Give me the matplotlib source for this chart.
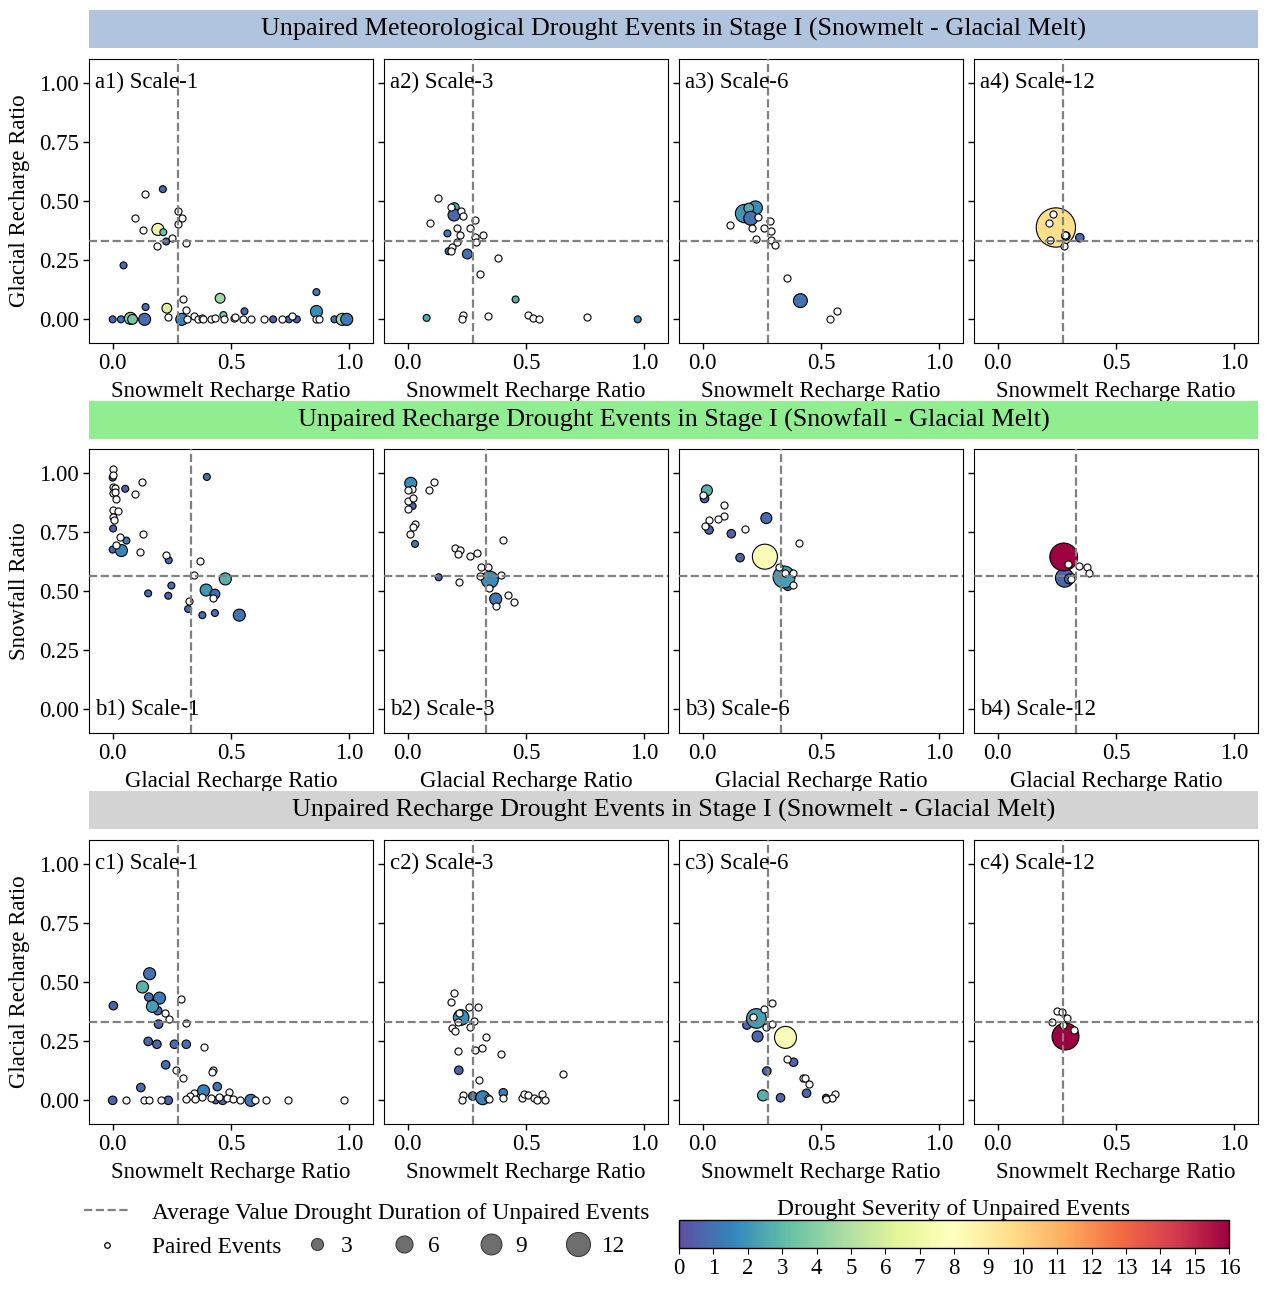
import numpy as np
import matplotlib
matplotlib.use("Agg")
import matplotlib.pyplot as plt
from matplotlib.lines import Line2D
from matplotlib.colors import Normalize
from matplotlib.cm import ScalarMappable

plt.rcParams['font.family'] = ['Liberation Serif', 'DejaVu Serif']

# ---------------- data ----------------
# row a: meteorological drought (snowmelt vs glacial recharge ratio)
a1_px = [0.138, 0.093, 0.128, 0.274, 0.291, 0.278, 0.252, 0.188, 0.311, 0.297, 0.308, 0.232, 0.312, 0.342, 0.359,
         0.378, 0.381, 0.415, 0.432, 0.471, 0.511, 0.519, 0.550, 0.586, 0.640, 0.716, 0.757, 0.861, 0.873]
a1_py = [0.531, 0.429, 0.378, 0.457, 0.428, 0.402, 0.344, 0.309, 0.324, 0.088, 0.040, 0.011, 0.002, 0.014, 0.000,
         0.007, 0.000, 0.000, 0.007, 0.000, 0.004, 0.008, 0.000, 0.003, 0.000, 0.000, 0.012, 0.000, 0.000]
a1_ux = [0.212, 0.191, 0.214, 0.226, 0.046, 0.454, 0.861, 0.139, 0.229, 0.557, 0.861, 0.468, 0.000, 0.035, 0.075,
         0.084, 0.135, 0.292, 0.678, 0.745, 0.778, 0.937, 0.970, 0.989]
a1_uy = [0.550, 0.380, 0.368, 0.329, 0.228, 0.089, 0.115, 0.052, 0.047, 0.034, 0.033, 0.018, 0.0, 0.0, 0.004,
         0.0, 0.0, 0.0, 0.0, 0.0, 0.0, 0.0, 0.0, 0.0]
a1_dur = [1, 3, 1, 1, 1, 2, 1, 1, 2, 1, 3, 1, 1, 1, 3, 2, 3, 3, 1, 1, 1, 1, 3, 3]
a1_sev = [0.8, 7.0, 3.2, 0.5, 0.8, 4.5, 1.3, 0.8, 6.0, 0.8, 1.8, 3.5, 0.7, 1.3, 4.0, 3.5, 0.8, 1.6, 0.5, 0.8,
          0.5, 1.0, 4.5, 1.2]

a2_px = [0.127, 0.182, 0.227, 0.232, 0.096, 0.283, 0.210, 0.263, 0.223, 0.283, 0.320, 0.208, 0.287, 0.189, 0.182,
         0.380, 0.306, 0.235, 0.228, 0.338, 0.507, 0.528, 0.556, 0.758]
a2_py = [0.514, 0.474, 0.456, 0.436, 0.409, 0.421, 0.388, 0.384, 0.357, 0.350, 0.358, 0.326, 0.326, 0.307, 0.290,
         0.259, 0.190, 0.018, 0.000, 0.013, 0.020, 0.004, 0.000, 0.011]
a2_ux = [0.197, 0.196, 0.168, 0.173, 0.252, 0.456, 0.080, 0.972]
a2_uy = [0.472, 0.441, 0.363, 0.288, 0.276, 0.084, 0.006, 0.000]
a2_dur = [2, 3, 1, 1, 2, 1, 1, 1]
a2_sev = [2.5, 0.7, 1.3, 0.9, 1.0, 2.7, 2.5, 1.6]

a3_px = [0.115, 0.208, 0.261, 0.285, 0.287, 0.224, 0.289, 0.306, 0.358, 0.539, 0.569, 0.234]
a3_py = [0.397, 0.388, 0.386, 0.414, 0.375, 0.338, 0.337, 0.314, 0.174, 0.003, 0.034, 0.434]
a3_ux = [0.177, 0.223, 0.195, 0.203, 0.413]
a3_uy = [0.447, 0.471, 0.470, 0.427, 0.079]
a3_dur = [7, 4, 2, 4, 4]
a3_sev = [2.0, 1.8, 2.5, 1.0, 1.0]

a4_px = [0.234, 0.216, 0.223, 0.283, 0.279]
a4_py = [0.444, 0.405, 0.334, 0.356, 0.311]
a4_ux = [0.246, 0.288, 0.347]
a4_uy = [0.388, 0.352, 0.345]
a4_dur = [32, 1.5, 1.5]
a4_sev = [9.6, 0.8, 0.8]

# row b: recharge drought (glacial recharge ratio vs snowfall ratio)
b1_px = [0.0, 0.0, 0.0, 0.011, 0.0, 0.008, 0.016, 0.124, 0.094, 0.0, 0.021, 0.0, 0.005, 0.127, 0.029, 0.016,
         0.116, 0.226, 0.371, 0.342, 0.324, 0.426]
b1_py = [1.016, 0.989, 0.939, 0.936, 0.915, 0.918, 0.887, 0.959, 0.910, 0.842, 0.838, 0.814, 0.798, 0.742, 0.730,
         0.694, 0.664, 0.651, 0.626, 0.566, 0.459, 0.470]
b1_ux = [0.0, 0.053, 0.398, 0.002, 0.058, 0.0, 0.037, 0.237, 0.476, 0.248, 0.150, 0.235, 0.395, 0.432, 0.319,
         0.379, 0.432, 0.535]
b1_uy = [0.979, 0.932, 0.982, 0.764, 0.713, 0.675, 0.671, 0.630, 0.551, 0.523, 0.490, 0.480, 0.504, 0.487, 0.424,
         0.398, 0.407, 0.398]
b1_dur = [1, 1, 1, 1, 1, 1, 3, 1, 3, 1, 1, 1, 3, 2, 1, 1, 1, 3]
b1_sev = [0.5, 0.6, 0.9, 0.5, 1.2, 0.7, 1.5, 0.8, 2.8, 0.9, 0.8, 0.6, 2.0, 0.9, 0.9, 0.9, 0.9, 1.0]

b2_px = [0.111, 0.090, 0.018, 0.002, 0.002, 0.021, 0.002, 0.029, 0.024, 0.010, 0.401, 0.200, 0.220, 0.212, 0.263,
         0.292, 0.309, 0.338, 0.307, 0.393, 0.216, 0.344, 0.422, 0.451, 0.373]
b2_py = [0.959, 0.925, 0.929, 0.927, 0.880, 0.894, 0.847, 0.781, 0.771, 0.742, 0.715, 0.682, 0.672, 0.657, 0.647,
         0.660, 0.602, 0.602, 0.562, 0.569, 0.537, 0.513, 0.484, 0.453, 0.438]
b2_ux = [0.013, 0.021, 0.031, 0.131, 0.347, 0.372]
b2_uy = [0.955, 0.859, 0.699, 0.558, 0.548, 0.466]
b2_dur = [3, 1, 1, 1, 6, 3]
b2_sev = [1.8, 0.6, 1.1, 0.6, 1.8, 1.1]

b3_px = [0.002, 0.090, 0.090, 0.066, 0.026, 0.011, 0.177, 0.408, 0.321, 0.348, 0.382, 0.382]
b3_py = [0.907, 0.862, 0.816, 0.806, 0.799, 0.775, 0.760, 0.703, 0.602, 0.578, 0.576, 0.527]
b3_ux = [0.018, 0.008, 0.269, 0.027, 0.121, 0.158, 0.263, 0.360, 0.344]
b3_uy = [0.925, 0.891, 0.808, 0.758, 0.742, 0.641, 0.645, 0.520, 0.559]
b3_dur = [2.5, 1.5, 2.5, 1.5, 1.5, 1.5, 13, 1.5, 10]
b3_sev = [2.8, 0.6, 0.8, 0.6, 0.6, 0.6, 7.5, 0.7, 2.2]

b4_px = [0.297, 0.344, 0.378, 0.384, 0.315, 0.310]
b4_py = [0.612, 0.607, 0.600, 0.576, 0.559, 0.550]
b4_ux = [0.283, 0.303, 0.279]
b4_uy = [0.555, 0.551, 0.644]
b4_dur = [7, 2, 16]
b4_sev = [0.7, 1.0, 16]

# row c: recharge drought (snowmelt vs glacial recharge ratio)
c1_px = [0.290, 0.223, 0.239, 0.310, 0.385, 0.426, 0.419, 0.268, 0.298, 0.490, 0.344, 0.327, 0.379, 0.416, 0.448,
         0.308, 0.347, 0.484, 0.508, 0.540, 0.602, 0.647, 0.739, 0.977, 0.056, 0.134, 0.153, 0.205]
c1_py = [0.428, 0.371, 0.343, 0.325, 0.226, 0.129, 0.119, 0.127, 0.095, 0.034, 0.030, 0.018, 0.016, 0.011, 0.016,
         0.007, 0.006, 0.011, 0.006, 0.003, 0.0, 0.0, 0.0, 0.0, 0.0, 0.0, 0.0, 0.0]
c1_ux = [0.156, 0.126, 0.153, 0.198, 0.190, 0.168, 0.003, 0.194, 0.150, 0.187, 0.261, 0.311, 0.224, 0.119, 0.384,
         0.442, 0.0, 0.235, 0.435, 0.465, 0.584]
c1_uy = [0.535, 0.479, 0.436, 0.432, 0.379, 0.397, 0.400, 0.322, 0.249, 0.237, 0.237, 0.237, 0.150, 0.054, 0.040,
         0.058, 0.0, 0.0, 0.0, 0.0, 0.0]
c1_dur = [3, 3, 1.5, 3, 1.5, 3, 1.5, 1.5, 1.5, 1.5, 1.5, 1.5, 1.5, 1.5, 3, 1.5, 1.5, 1.5, 1, 1.5, 3]
c1_sev = [1.0, 2.8, 0.9, 1.2, 0.9, 2.2, 0.6, 0.6, 0.7, 0.7, 0.9, 0.9, 0.9, 0.9, 1.4, 1.1, 0.6, 0.6, 0.6, 0.7, 1.1]

c2_px = [0.195, 0.184, 0.296, 0.258, 0.218, 0.279, 0.212, 0.187, 0.200, 0.263, 0.330, 0.213, 0.284, 0.313, 0.396,
         0.300, 0.656, 0.233, 0.228, 0.341, 0.344, 0.404, 0.485, 0.493, 0.509, 0.535, 0.548, 0.566, 0.580]
c2_py = [0.452, 0.417, 0.395, 0.393, 0.367, 0.335, 0.333, 0.305, 0.294, 0.311, 0.266, 0.209, 0.212, 0.220, 0.195,
         0.086, 0.112, 0.021, 0.0, 0.011, 0.004, 0.011, 0.011, 0.028, 0.021, 0.011, 0.003, 0.028, 0.003]
c2_ux = [0.226, 0.216, 0.275, 0.317, 0.404]
c2_uy = [0.350, 0.127, 0.018, 0.011, 0.032]
c2_dur = [5, 1.5, 1.5, 4, 1.5]
c2_sev = [1.8, 0.6, 0.7, 1.4, 1.3]

c3_px = [0.292, 0.261, 0.211, 0.295, 0.266, 0.358, 0.424, 0.434, 0.450, 0.558, 0.547, 0.521]
c3_py = [0.410, 0.386, 0.353, 0.322, 0.311, 0.175, 0.093, 0.093, 0.068, 0.027, 0.011, 0.006]
c3_ux = [0.187, 0.227, 0.232, 0.350, 0.384, 0.271, 0.255, 0.329, 0.439, 0.521]
c3_uy = [0.318, 0.346, 0.270, 0.266, 0.161, 0.124, 0.021, 0.011, 0.030, 0.011]
c3_dur = [1.5, 8, 2.5, 10, 1.5, 1.5, 2.5, 1.5, 1.5, 1]
c3_sev = [0.7, 2.2, 0.7, 7.5, 0.6, 0.6, 2.8, 0.7, 0.6, 0.6]

c4_px = [0.250, 0.271, 0.291, 0.231, 0.275, 0.323]
c4_py = [0.377, 0.373, 0.347, 0.332, 0.318, 0.297]
c4_ux = [0.283]
c4_uy = [0.271]
c4_dur = [15]
c4_sev = [16]

# average-value reference lines per row (x, y)
row_vline = [0.277, 0.331, 0.277]
row_hline = [0.331, 0.565, 0.333]

row_titles = ["Unpaired Meteorological Drought Events in Stage I (Snowmelt - Glacial Melt)",
              "Unpaired Recharge Drought Events in Stage I (Snowfall - Glacial Melt)",
              "Unpaired Recharge Drought Events in Stage I (Snowmelt - Glacial Melt)"]
row_colors = ["#b0c4de", "#90ee90", "#d3d3d3"]
row_xlabels = ["Snowmelt Recharge Ratio", "Glacial Recharge Ratio", "Snowmelt Recharge Ratio"]
row_ylabels = ["Glacial Recharge Ratio", "Snowfall Ratio", "Glacial Recharge Ratio"]
scales = [1, 3, 6, 12]
legend_durations = [3, 6, 9, 12]

panels = {
    "a1": (a1_px, a1_py, a1_ux, a1_uy, a1_dur, a1_sev),
    "a2": (a2_px, a2_py, a2_ux, a2_uy, a2_dur, a2_sev),
    "a3": (a3_px, a3_py, a3_ux, a3_uy, a3_dur, a3_sev),
    "a4": (a4_px, a4_py, a4_ux, a4_uy, a4_dur, a4_sev),
    "b1": (b1_px, b1_py, b1_ux, b1_uy, b1_dur, b1_sev),
    "b2": (b2_px, b2_py, b2_ux, b2_uy, b2_dur, b2_sev),
    "b3": (b3_px, b3_py, b3_ux, b3_uy, b3_dur, b3_sev),
    "b4": (b4_px, b4_py, b4_ux, b4_uy, b4_dur, b4_sev),
    "c1": (c1_px, c1_py, c1_ux, c1_uy, c1_dur, c1_sev),
    "c2": (c2_px, c2_py, c2_ux, c2_uy, c2_dur, c2_sev),
    "c3": (c3_px, c3_py, c3_ux, c3_uy, c3_dur, c3_sev),
    "c4": (c4_px, c4_py, c4_ux, c4_uy, c4_dur, c4_sev),
}

# ---------------- layout (pixels) ----------------
W, H = 1269, 1289
size_k = 25          # marker area per month of duration
paired_s = 26
cmap = plt.get_cmap("Spectral_r")
norm = Normalize(vmin=0, vmax=16)
fs = 16.5

fig = plt.figure(figsize=(W / 100, H / 100), dpi=100)

col_left = [89, 384, 679, 974]
row_top = [59, 449, 840]
head_top = [10, 401, 791]
box = 284


def rect(left, top, w, h):
    return [left / W, 1 - (top + h) / H, w / W, h / H]


for r, letter in enumerate("abc"):
    hax = fig.add_axes(rect(89, head_top[r], 1258 - 89, 38))
    hax.set_facecolor(row_colors[r])
    hax.set_xticks([])
    hax.set_yticks([])
    for sp in hax.spines.values():
        sp.set_visible(False)
    hax.text(0.5, 0.5, row_titles[r], ha="center", va="center", fontsize=18.8, transform=hax.transAxes)

    for c in range(4):
        key = f"{letter}{c + 1}"
        px, py, ux, uy, dur, sev = panels[key]
        ax = fig.add_axes(rect(col_left[c], row_top[r], box, box))
        ax.scatter(ux, uy, s=np.array(dur) * size_k, c=sev, cmap=cmap, norm=norm,
                   edgecolors="black", linewidths=0.8, zorder=2)
        ax.scatter(px, py, s=paired_s, facecolors="white", edgecolors="black", linewidths=0.8, zorder=3)
        ax.axvline(row_vline[r], color="gray", ls="--", lw=1.6, zorder=4)
        ax.axhline(row_hline[r], color="gray", ls="--", lw=1.6, zorder=4)
        ax.set_xlim(-0.1, 1.1)
        ax.set_ylim(-0.1, 1.1)
        ax.set_xticks([0, 0.5, 1.0])
        ax.set_yticks([0, 0.25, 0.5, 0.75, 1.0])
        ax.tick_params(labelsize=fs, length=4, width=1)
        ax.set_xlabel(row_xlabels[r], fontsize=fs, labelpad=5)
        if c == 0:
            ax.set_ylabel(row_ylabels[r], fontsize=fs, labelpad=6)
        else:
            ax.set_yticklabels([])
        lab = f"{key}) Scale-{scales[c]}"
        if letter == "b":
            ax.text(0.02, 0.082, lab, transform=ax.transAxes, fontsize=fs, ha="left", va="center", zorder=5)
        else:
            ax.text(0.02, 0.918, lab, transform=ax.transAxes, fontsize=fs, ha="left", va="center", zorder=5)

# ---------------- colorbar ----------------
cax = fig.add_axes(rect(679, 1220, 550, 28))
cb = fig.colorbar(ScalarMappable(norm=norm, cmap=cmap), cax=cax, orientation="horizontal",
                  ticks=np.arange(0, 17, 1))
cb.ax.tick_params(labelsize=fs, length=4)
cb.outline.set_linewidth(1)
cax.set_title("Drought Severity of Unpaired Events", fontsize=17, pad=3)

# ---------------- legends ----------------
h_line = Line2D([], [], color="gray", ls="--", lw=1.6)
h_pair = Line2D([], [], marker="o", ls="none", ms=4, mfc="white", mec="black", mew=0.9)
fig.legend([h_line, h_pair], ["Average Value Drought Duration of Unpaired Events", "Paired Events"],
           loc="center left", bbox_to_anchor=(84 / W, 1 - 1230 / H), frameon=False, fontsize=fs + 0.3,
           handlelength=2.0, handletextpad=0.9, labelspacing=0.55, borderpad=0, borderaxespad=0)

size_handles = [Line2D([], [], marker="o", ls="none", ms=np.sqrt(d * size_k), mfc="#6e6e6e", mec="#3a3a3a",
                       mew=0.8) for d in legend_durations]
fig.legend(size_handles, [str(d) for d in legend_durations], loc="center left",
           bbox_to_anchor=(305 / W, 1 - 1246 / H), ncol=4, frameon=False, fontsize=fs + 0.3,
           handlelength=1.0, handletextpad=0.55, columnspacing=1.68, borderpad=0, borderaxespad=0)

fig.savefig("out.png", dpi=100)
